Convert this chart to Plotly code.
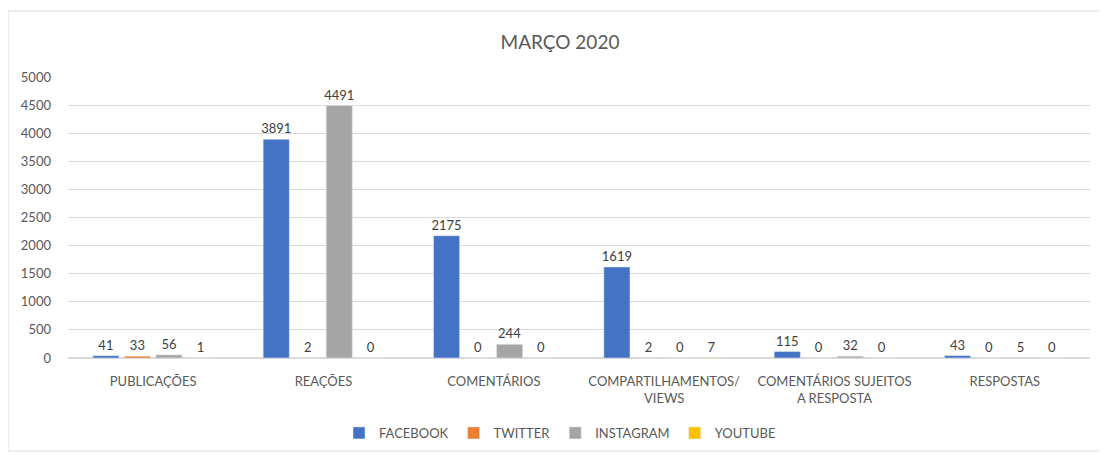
import plotly.graph_objects as go

categories = ["PUBLICAÇÕES", "REAÇÕES", "COMENTÁRIOS", "COMPARTILHAMENTOS/<br>VIEWS",
              "COMENTÁRIOS SUJEITOS<br>A RESPOSTA", "RESPOSTAS"]
facebook = [41, 3891, 2175, 1619, 115, 43]
twitter = [33, 2, 0, 2, 0, 0]
instagram = [56, 4491, 244, 0, 32, 5]
youtube = [1, 0, 0, 7, 0, 0]
series_names = ["FACEBOOK", "TWITTER", "INSTAGRAM", "YOUTUBE"]
colors = ["#4472C4", "#ED7D31", "#A5A5A5", "#FFC000"]
y_ticks = list(range(0, 5001, 500))

FONT = "Lato, 'Open Sans', sans-serif"
fig = go.Figure()
for name, vals, col in zip(series_names, [facebook, twitter, instagram, youtube], colors):
    fig.add_trace(go.Bar(
        x=categories, y=vals, name=name, marker_color=col,
        text=[str(v) for v in vals], textposition="outside",
        textfont=dict(size=13, color="#404040", family=FONT),
        constraintext="none", cliponaxis=False,
    ))

# page body has an 8px margin, so the figure origin sits at (8, 8) on screen
OFF = 8
W, H = 1107 - OFF, 455 - OFF
# target plot area on screen: x 68..1090, y 77..358
L, R, T, B = 68 - OFF, 1107 - 1090, 77 - OFF, 455 - 358
pw, ph = W - L - R, H - T - B

fig.update_layout(
    width=W, height=H,
    margin=dict(l=L, r=R, t=T, b=B, autoexpand=False),
    paper_bgcolor="white", plot_bgcolor="white",
    font=dict(family=FONT, color="#595959", size=13),
    title=dict(text="MARÇO 2020", x=(560 - OFF) / W, xanchor="center", xref="container",
               y=1 - (42 - OFF) / H, yanchor="middle", yref="container",
               font=dict(size=19, color="#595959", family=FONT)),
    barmode="group", bargap=0.26, bargroupgap=0.17,
    showlegend=True,
    legend=dict(orientation="h", x=(560 - 68) / pw, xanchor="center",
                y=(358 - 433) / ph, yanchor="middle",
                font=dict(size=13, color="#595959"),
                traceorder="normal"),
)
fig.update_yaxes(range=[0, 5000], tickvals=y_ticks, showgrid=True, gridcolor="#D9D9D9",
                 gridwidth=1, zeroline=True, zerolinecolor="#D9D9D9", showline=False,
                 tickfont=dict(size=13, color="#595959"), ticks="", automargin=False,
                 ticklabelstandoff=16)
fig.update_xaxes(showgrid=False, showline=False, ticks="", automargin=False,
                 tickfont=dict(size=13, color="#595959"), ticklabelstandoff=14)

# outer chart border (screen coords 8,11 -> 1105,451)
fig.add_shape(type="rect", xref="paper", yref="paper",
              x0=(8 - 68) / pw, x1=(1105 - 68) / pw,
              y0=(358 - 451) / ph, y1=(358 - 11) / ph,
              line=dict(color="#D9D9D9", width=1), fillcolor="rgba(0,0,0,0)", layer="below")

fig.write_html("out.html")
